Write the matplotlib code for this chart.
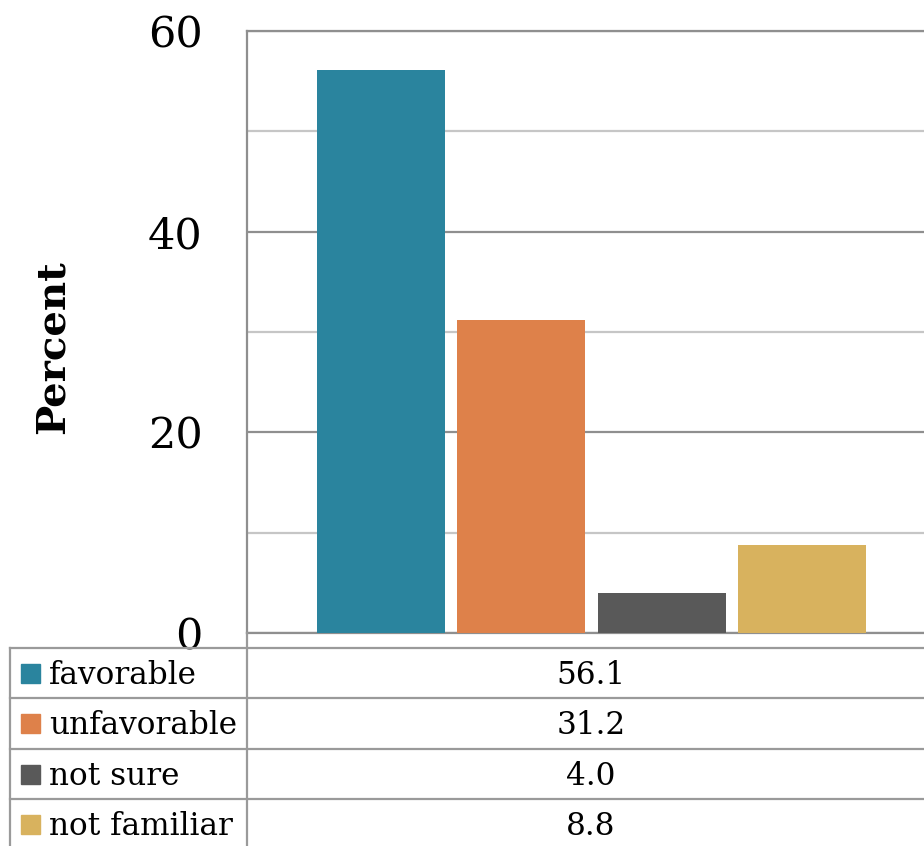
import matplotlib
matplotlib.use("Agg")
import matplotlib.pyplot as plt
from matplotlib.patches import Rectangle

# data
series = ["favorable", "unfavorable", "not sure", "not familiar"]
values = [56.1, 31.2, 4.0, 8.8]
colors = ["#2A849E", "#DE814A", "#595959", "#D8B25E"]
yticks = [0, 20, 40, 60]

plt.rcParams["font.family"] = ["DejaVu Serif"]

W, H = 924, 846
fig = plt.figure(figsize=(W / 100, H / 100), dpi=100)

# plot area runs past the right edge like in the original screenshot
ax = fig.add_axes([247 / W, 213 / H, 689 / W, 602 / H])
xpos = list(range(len(series)))
ax.bar(xpos, values, width=0.91, color=colors, zorder=3)
ax.set_xlim(-0.954, 3.954)
ax.set_ylim(0, 60)

ax.set_yticks(yticks)
ax.set_yticklabels([str(t) for t in yticks], fontsize=31)
ax.set_yticks([10, 30, 50], minor=True)
ax.tick_params(axis="y", which="both", length=0, pad=32)
ax.set_xticks([])
ax.grid(axis="y", which="major", color="#8F8F8F", lw=1.6, zorder=0)
ax.grid(axis="y", which="minor", color="#C6C6C6", lw=1.6, zorder=0)
for s in ["top", "left", "bottom"]:
    ax.spines[s].set_color("#8F8F8F")
    ax.spines[s].set_linewidth(1.6)
ax.spines["right"].set_visible(False)
ax.set_ylabel("Percent", fontsize=29, fontweight="bold")
ax.yaxis.set_label_coords(-0.255, 0.475)

# data table underneath
tax = fig.add_axes([0, 0, 1, 1])
tax.set_xlim(0, W)
tax.set_ylim(H, 0)
tax.axis("off")
row_top = 648
row_h = 50.5
grid_kw = dict(color="#9A9A9A", lw=1.6)
# left axis continues down through the table
tax.plot([247, 247], [633, H], **grid_kw)
tax.plot([10, 10], [row_top, H], **grid_kw)
for i in range(len(series) + 1):
    y = row_top + i * row_h
    tax.plot([10, W], [y, y], **grid_kw)
for i, (name, val, c) in enumerate(zip(series, values, colors)):
    yc = row_top + (i + 0.5) * row_h
    tax.add_patch(Rectangle((21, yc - 9.5), 19, 19, color=c))
    tax.text(49, yc + 2, name, fontsize=22.4, va="center", ha="left")
    tax.text(591, yc + 2, f"{val:.1f}", fontsize=22.4, va="center", ha="center")

fig.savefig("out.png", dpi=100)
